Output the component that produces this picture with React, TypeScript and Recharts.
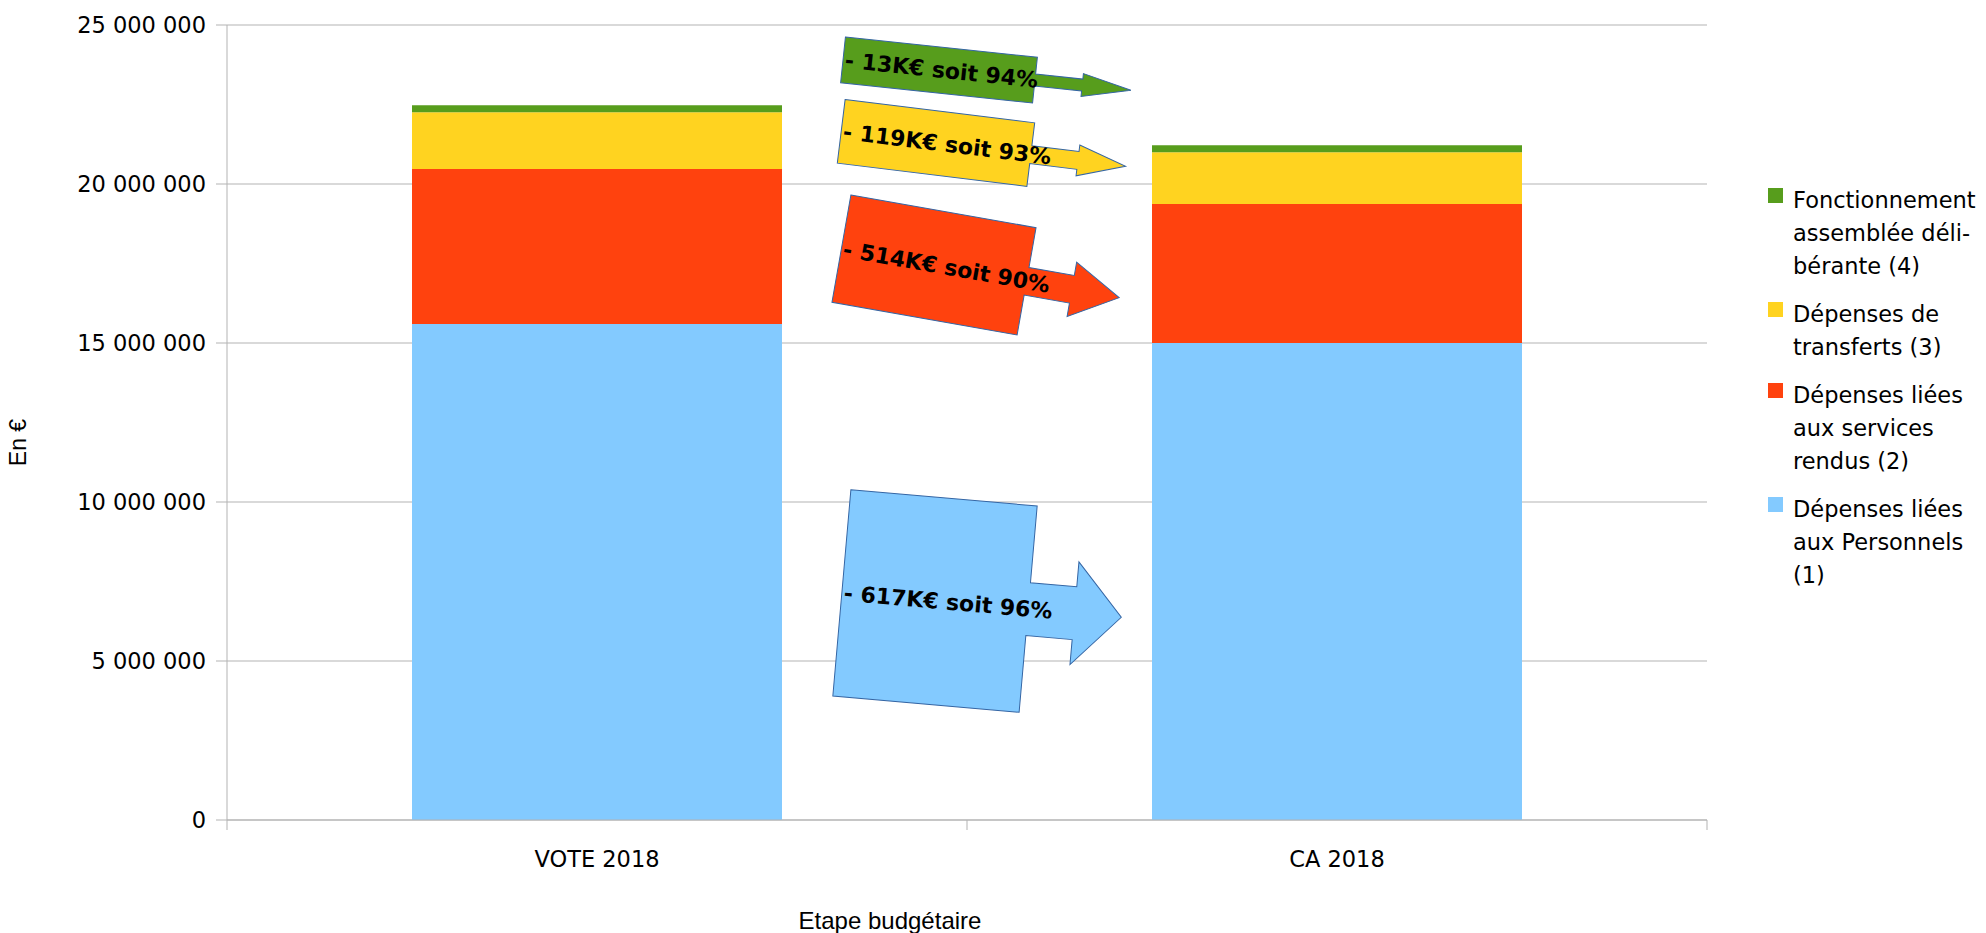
import React from 'react';
import { BarChart, Bar, XAxis, YAxis, CartesianGrid, Legend } from 'recharts';

// budget stages
const categories = ['VOTE 2018', 'CA 2018'];

// stacked series, bottom to top (values in €)
const personnels = [15600000, 15000000];
const services = [4870000, 4370000];
const transferts = [1790000, 1630000];
const fonctionnement = [220000, 220000];

const seriesKeys = ['personnels', 'services', 'transferts', 'fonctionnement'];
const seriesNames = [
  'Dépenses liées aux Personnels (1)',
  'Dépenses liées aux services rendus (2)',
  'Dépenses de transferts (3)',
  'Fonctionnement assemblée délibérante (4)',
];
const legendLines = [
  ['Dépenses liées', 'aux Personnels', '(1)'],
  ['Dépenses liées', 'aux services', 'rendus (2)'],
  ['Dépenses de', 'transferts (3)'],
  ['Fonctionnement', 'assemblée déli-', 'bérante (4)'],
];
const seriesColors = ['#83caff', '#ff420e', '#ffd320', '#579d1c'];

const yTicks = [0, 5000000, 10000000, 15000000, 20000000, 25000000];

// callout texts, top to bottom
const calloutTexts = ['- 13K€ soit 94%', '- 119K€ soit 93%', '- 514K€ soit 90%', '- 617K€ soit 96%'];
const calloutColors = ['#579d1c', '#ffd320', '#ff420e', '#83caff'];

const data = categories.map((name, i) => ({
  name,
  personnels: personnels[i],
  services: services[i],
  transferts: transferts[i],
  fonctionnement: fonctionnement[i],
}));

const GRID = '#b3b3b3';
const TICK_FONT = { fontFamily: 'DejaVu Sans', fontSize: 22.5, fill: '#000' };

const fmt = (v: number) => String(v).replace(/\B(?=(\d{3})+(?!\d))/g, ' ');

function CategoryTick(props: any) {
  const { x, y, payload } = props;
  const half = payload?.offset ?? 370;
  return (
    <g>
      <line x1={x - half} x2={x - half} y1={y} y2={y + 10} stroke={GRID} />
      {payload.index === categories.length - 1 && (
        <line x1={x + half} x2={x + half} y1={y} y2={y + 10} stroke={GRID} />
      )}
      <text x={x} y={y + 39} textAnchor="middle" dominantBaseline="central" {...TICK_FONT}>
        {payload.value}
      </text>
    </g>
  );
}

function YTitle(props: any) {
  const vb = props.viewBox || { x: 0, y: 25, width: 227, height: 795 };
  const cx = vb.x + 18;
  const cy = vb.y + vb.height / 2 + 20;
  return (
    <text
      x={cx}
      y={cy}
      transform={`rotate(-90, ${cx}, ${cy})`}
      textAnchor="middle"
      dominantBaseline="central"
      fontFamily="Liberation Sans"
      fontSize={23}
      fill="#000"
    >
      En €
    </text>
  );
}

function LegendBox(props: any) {
  const payload = props.payload || [];
  // top of the stack first
  const order = seriesKeys.map((_, i) => i).reverse();
  return (
    <div style={{ fontFamily: 'DejaVu Sans', fontSize: 22.5, color: '#000' }}>
      {order.map((idx) => {
        const entry = payload.find((p: any) => p.dataKey === seriesKeys[idx]);
        return (
          <div key={seriesKeys[idx]} style={{ display: 'flex', alignItems: 'flex-start', marginBottom: 15 }}>
            <span
              style={{
                width: 15,
                height: 15,
                background: entry ? entry.color : seriesColors[idx],
                marginTop: 4.5,
                marginRight: 10,
                flex: 'none',
              }}
            />
            <div style={{ lineHeight: '33px', whiteSpace: 'nowrap' }}>
              {legendLines[idx].map((l) => (
                <div key={l}>{l}</div>
              ))}
            </div>
          </div>
        );
      })}
    </div>
  );
}

// callout shapes (rotated rectangles with arrows)
const calloutShapes = [
  { cx: 939, cy: 70, w: 193, h: 46, base: 144, tip: 193, shaft: 6, head: 11.5, angle: 6 },
  { cx: 936, cy: 143, w: 191, h: 64, base: 143, tip: 191, shaft: 9, head: 15.5, angle: 7 },
  { cx: 934, cy: 265, w: 188, h: 109, base: 140, tip: 188, shaft: 14, head: 27.5, angle: 10 },
  { cx: 935, cy: 601, w: 187, h: 207, base: 140, tip: 187, shaft: 26.5, head: 51.5, angle: 5 },
];

function Callouts() {
  return (
    <svg
      width={1986}
      height={933}
      style={{ position: 'absolute', left: 0, top: 0, pointerEvents: 'none' }}
    >
      {calloutShapes.map((s, i) => {
        const l = -s.w / 2;
        const r = s.w / 2;
        const t = -s.h / 2;
        const b = s.h / 2;
        const pts = [
          [l, t],
          [r, t],
          [r, -s.shaft],
          [s.base, -s.shaft],
          [s.base, -s.head],
          [s.tip, 0],
          [s.base, s.head],
          [s.base, s.shaft],
          [r, s.shaft],
          [r, b],
          [l, b],
        ]
          .map((p) => p.join(','))
          .join(' ');
        return (
          <g key={i} transform={`translate(${s.cx}, ${s.cy}) rotate(${s.angle})`}>
            <polygon points={pts} fill={calloutColors[i]} stroke="#3465a4" strokeWidth={1} />
            <text
              x={l + 2}
              y={0}
              dominantBaseline="central"
              fontFamily="DejaVu Sans"
              fontWeight="bold"
              fontSize={22}
              fill="#000"
            >
              {calloutTexts[i]}
            </text>
          </g>
        );
      })}
    </svg>
  );
}

export default function App() {
  return (
    <div style={{ position: 'absolute', left: 0, top: 0, width: 1986, height: 933, background: '#fff' }}>
      <BarChart
        width={1986}
        height={933}
        data={data}
        margin={{ top: 25, right: 279, bottom: 0, left: 0 }}
        barCategoryGap="25%"
      >
        <CartesianGrid vertical={false} stroke={GRID} strokeWidth={1} />
        <XAxis
          dataKey="name"
          height={113}
          axisLine={{ stroke: GRID }}
          tickLine={false}
          tickSize={0}
          tickMargin={0}
          tick={<CategoryTick />}
          interval={0}
          label={{
            value: 'Etape budgétaire',
            position: 'insideBottom',
            offset: 4,
            dx: -77,
            fontFamily: 'Liberation Sans',
            fontSize: 24,
            fill: '#000',
          }}
        />
        <YAxis
          width={227}
          domain={[0, 25000000]}
          ticks={yTicks}
          tickFormatter={fmt}
          axisLine={{ stroke: GRID }}
          tickLine={{ stroke: GRID }}
          tickSize={11}
          tickMargin={10}
          tick={TICK_FONT}
          label={<YTitle />}
        />
        <YAxis
          yAxisId="right"
          orientation="right"
          width={0}
          tick={false}
          tickLine={false}
          axisLine={{ stroke: GRID }}
        />
        <Legend
          layout="vertical"
          align="center"
          verticalAlign="middle"
          wrapperStyle={{ left: 1768, top: 183.5, width: 218, margin: 0 }}
          content={<LegendBox />}
        />
        {seriesKeys.map((k, i) => (
          <Bar
            key={k}
            dataKey={k}
            name={seriesNames[i]}
            stackId="a"
            fill={seriesColors[i]}
            isAnimationActive={false}
          />
        ))}
      </BarChart>
      <Callouts />
    </div>
  );
}
